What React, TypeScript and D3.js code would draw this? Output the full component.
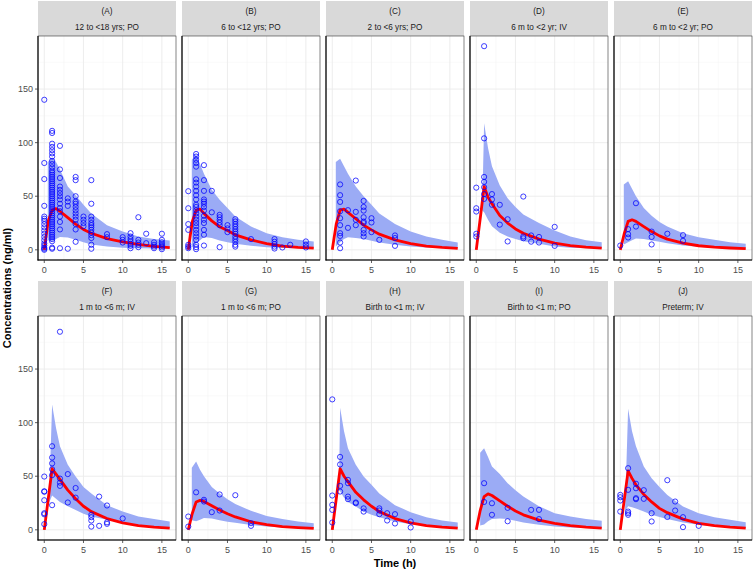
import React from "react";
import * as d3 from "d3";

const panelLetters = ["(A)", "(B)", "(C)", "(D)", "(E)", "(F)", "(G)", "(H)", "(I)", "(J)"];
const panelLabels = [
  "12 to <18 yrs; PO",
  "6 to <12 yrs; PO",
  "2 to <6 yrs; PO",
  "6 m to <2 yr; IV",
  "6 m to <2 yr; PO",
  "1 m to <6 m; IV",
  "1 m to <6 m; PO",
  "Birth to <1 m; IV",
  "Birth to <1 m; PO",
  "Preterm; IV",
];

const xTicks = [0, 5, 10, 15];
const xMinor = [2.5, 7.5, 12.5];
const yTicks = [0, 50, 100, 150];
const yMinor = [25, 75, 125, 175];

// median prediction line
const lineTimes = [0, 0.5, 1, 1.5, 2, 3, 4, 5, 6, 8, 10, 12, 14, 16];
const lineValues = [
  [0, 27, 37, 38.5, 36, 30, 24, 19, 15.5, 10.5, 7.5, 5, 3.2, 2],
  [0, 26, 37, 38, 34, 27, 21.5, 18, 14, 9.3, 5.8, 3.5, 2.2, 1.5],
  [0, 24, 37, 38, 35, 29, 23, 18.6, 14.6, 9.3, 5.8, 3.5, 2.2, 1.3],
  [0, 29, 59, 49, 43, 32, 25, 19.5, 15.5, 10, 6.3, 4, 2.6, 1.6],
  [0, 15, 26.5, 28, 26.5, 21.7, 17, 13, 10, 6.2, 3.8, 2.5, 1.7, 1.2],
  [0, 28.5, 57, 52, 47, 37, 29, 22, 17, 10.5, 6.5, 4, 2.5, 1.5],
  [0, 15, 26, 27.5, 26.5, 22.5, 18.5, 15, 12, 7.5, 4.8, 3, 2, 1.3],
  [0, 28.5, 57, 50, 45, 35, 28, 22, 17, 10.5, 6.5, 4, 2.5, 1.5],
  [0, 18, 31, 33.5, 32, 27, 22, 17.5, 14, 9, 6, 4, 2.5, 1.5],
  [0, 27.5, 55, 48, 42, 33, 26, 20, 16, 10, 6, 4, 2.5, 1.5],
];

// prediction interval (ribbon); first time point differs per panel
const ribbonStart = [0.45, 0.45, 0.45, 0.75, 0.45, 0.6, 0.45, 0.85, 0.5, 0.6];
const ribbonTimes = [1, 1.5, 2, 3, 4, 5, 6, 8, 10, 12, 14, 16];
const ribbonUpper = [
  [82, 86, 82, 75, 59, 51, 42, 34, 23, 17, 12.4, 10, 8.7],
  [84, 89, 80, 71, 56, 46.6, 39, 31, 21.7, 15.5, 11.8, 9.3, 7.8],
  [82, 85, 78, 71, 59, 50, 42, 34, 24, 17, 12.4, 9.3, 6.8],
  [37, 118, 95, 78, 60, 48, 40, 33, 25, 18, 12.5, 9, 7],
  [61, 64, 57, 50, 39, 31.7, 26, 21.7, 15.5, 11.8, 9.3, 7, 5.6],
  [25, 117, 95, 78, 60.6, 49.7, 40, 34, 23, 17, 12.4, 10, 7.8],
  [58, 63.7, 56, 50, 40, 34, 28.6, 24, 17.7, 13, 10, 7.8, 6.2],
  [37, 114, 92, 76, 60.6, 49.7, 42, 34, 23, 16.5, 11.8, 8.7, 6.8],
  [72, 76, 68, 59, 52, 43.5, 37, 31, 22, 15.5, 12.5, 10, 8.5],
  [17, 113, 92, 78, 59, 48, 40, 32.6, 21.7, 15.5, 11.8, 9.3, 7],
];
const ribbonLower = [
  [9, 8, 10, 12, 11.5, 9.3, 7, 5, 3, 2, 1.5, 1.3, 1.2],
  [2, 6, 9, 12, 11, 8.7, 7, 5.6, 3.7, 2.5, 1.8, 1.4, 1.2],
  [3, 7, 10, 11.8, 11, 10, 8.5, 6.8, 4.7, 3, 2.2, 1.7, 1.5],
  [37, 35, 28, 22, 16, 12.4, 10, 8, 5.6, 3, 2, 1.5, 1.2],
  [5, 7, 9, 10.5, 10, 8.7, 7.5, 6.2, 4, 2.8, 2, 1.5, 1.2],
  [25, 32, 29, 26, 22, 18.6, 15, 12.4, 9.3, 6.2, 4, 3, 2.2],
  [9, 8, 9.5, 11, 10.5, 9, 7.5, 6.5, 4.5, 3, 2.2, 1.7, 1.3],
  [37, 36, 30, 26, 21.7, 17, 14, 11.8, 7.8, 5.3, 3.8, 2.8, 2.2],
  [4, 5, 8, 10, 10.5, 10, 8.5, 6.8, 4.7, 3, 2.2, 1.6, 1.2],
  [17, 22, 21, 20, 17, 14, 12, 10, 6.8, 4.7, 3.2, 2.2, 1.5],
];

// observed concentrations: [time, values at that time]
type Group = [number, number[]];
const obsA: Group[] = [
  [0, [140, 81, 66, 41, 31, 29, 27, 24, 21, 18, 15, 12, 9, 6, 4, 2, 1, 0]],
  [1, [111, 109, 99, 96, 93, 90, 87, 83, 80, 77, 74, 72, 70, 68, 66, 64, 62, 60, 58, 56, 54, 52, 50, 48, 46, 44, 42, 40, 38, 36, 34, 32, 30, 28, 26, 24, 22, 20, 18, 16, 14, 12, 10, 8, 2, 1]],
  [2, [97, 75, 67, 59, 56, 53, 50, 47, 43, 39, 36, 31, 26, 19, 1.5]],
  [3, [48, 45, 41, 1]],
  [4, [68, 65, 50, 45, 43, 40, 37, 34, 31, 28, 24, 19, 7.5]],
  [5, [31, 28, 25, 22]],
  [6, [65, 43, 31, 28, 25, 23, 21, 18.6, 16, 13.7, 11, 4.7, 1]],
  [8, [14.6, 11.8]],
  [10, [11.8, 9.3, 6.8]],
  [11, [15.5, 12.4, 10, 7.8, 5.6, 3.7, 1.5]],
  [12, [30.4, 9.3, 6.8, 4.7, 2.5]],
  [13, [15, 6.2]],
  [14, [7, 4.7, 3, 1.5]],
  [15, [15, 9.3, 7, 5.3, 3.7, 2.2, 0.6]],
];
const obsB: Group[] = [
  [0, [54.7, 38.8, 24, 18.6, 4.7, 3, 1.5]],
  [1, [89.4, 87, 84, 81, 77.6, 65.8, 62.7, 59, 55, 51, 47, 42, 40, 37, 34, 31, 28, 25, 22, 18.6, 15.5, 12.4, 9.3, 4.7, 2.5, 0.6]],
  [2, [79, 65, 55, 47, 45, 43, 40, 36.6, 31.7, 28, 25, 18.6, 14, 4]],
  [3, [55, 35]],
  [4, [32.6, 30.4, 28, 25.5, 23, 2.5]],
  [5, [23, 20, 16.5]],
  [6, [28.6, 26.4, 24, 21.7, 19.3, 17, 15, 12.4, 10, 7.5, 4.7, 3]],
  [8, [10]],
  [11, [10, 7.5, 5.3, 3, 1.2]],
  [12, [2.2]],
  [13, [4.7]],
  [15, [7.8, 4.7, 2.2]],
];
const obsC: Group[] = [
  [1, [61, 51, 44.7, 36, 29.5, 23, 15.5, 13, 6.8, 1.5]],
  [2, [37, 20.5]],
  [3, [64.6, 35.4, 28, 23]],
  [4, [45.6, 40, 36.6, 30.4, 26.4, 25, 18.6, 15.5, 12.4]],
  [5, [29.5, 25.5, 16.5]],
  [6, [9.3]],
  [8, [13.4, 11, 3.7]],
];
const obsD: Group[] = [
  [0, [58, 38.8, 35.7, 15, 12.4]],
  [1, [190, 104, 68, 63.4, 58.4, 52, 47.5]],
  [2, [52, 47, 42]],
  [3, [42, 23.5]],
  [4, [28.5, 7.8]],
  [6, [49.7, 12.4, 10.8]],
  [7, [13.4, 7.6]],
  [8, [12, 6.8]],
  [10, [21.4, 3.7]],
];
const obsE: Group[] = [
  [0, [4]],
  [1, [19.3, 14.6, 11.5]],
  [2, [43.5, 21.7]],
  [4, [17, 12, 5]],
  [6, [15]],
  [8, [13.7, 8.4]],
];
const obsF: Group[] = [
  [0, [49.7, 36, 35.5, 27.6, 15.5, 14.5, 5.3]],
  [1, [78, 67.4, 62, 56.5, 51, 23]],
  [2, [184.8, 47.8, 44, 41]],
  [3, [52, 25.5]],
  [4, [39, 30]],
  [6, [14, 11.8, 8.7, 3]],
  [7, [31, 3.7]],
  [8, [22.7, 7, 5.6]],
  [10, [10.6]],
];
const obsG: Group[] = [
  [0, [12.4, 3]],
  [1, [35]],
  [2, [28, 26.4]],
  [3, [16.5]],
  [4, [33, 18]],
  [6, [32.3]],
  [8, [6.2, 3.7]],
];
const obsH: Group[] = [
  [0, [121.7, 32, 23.3, 18.6, 6.8]],
  [1, [68, 61, 41, 35.7]],
  [2, [46.6, 43.5, 31, 28.6]],
  [3, [25.5, 24.8]],
  [4, [20, 17]],
  [6, [20, 18, 14.6]],
  [7, [15.5, 8.7]],
  [8, [14.6, 5.9]],
  [10, [7.8, 2.2]],
];
const obsI: Group[] = [
  [1, [43.5, 26]],
  [2, [24.8, 14]],
  [4, [20.5, 8]],
  [7, [18.6]],
  [8, [18.6, 10]],
];
const obsJ: Group[] = [
  [0, [32.6, 30.4, 27.3, 17]],
  [1, [57.5, 37.3, 17, 15.5, 14]],
  [2, [43, 38.8, 29.5, 28.6]],
  [3, [37, 28.9]],
  [4, [15.5, 7.8]],
  [6, [46.3, 12]],
  [7, [26.4, 18]],
  [8, [11.8, 2.5]],
  [10, [3.7]],
];
const observations = [obsA, obsB, obsC, obsD, obsE, obsF, obsG, obsH, obsI, obsJ];

const W = 753;
const H = 572;
const panelLeft0 = 38;
const panelStep = 144;
const panelW = 138;
const rowTop0 = 1;
const rowStep = 280;
const stripH = 35;
const panelH = 224;

const FONT = "'Liberation Sans', Arial, Helvetica, sans-serif";

const x = d3.scaleLinear().domain([-0.8, 16.8]).range([0, panelW]);
const y = d3.scaleLinear().domain([-9.5, 199.5]).range([panelH, 0]);

type RPt = { t: number; lo: number; hi: number };

function Panel({ idx }: { idx: number }) {
  const col = idx % 5;
  const row = Math.floor(idx / 5);
  const left = panelLeft0 + col * panelStep;
  const stripTop = rowTop0 + row * rowStep;
  const top = stripTop + stripH;

  const rTimes = [ribbonStart[idx], ...ribbonTimes];
  const rData: RPt[] = rTimes.map((t, i) => ({ t, lo: ribbonLower[idx][i], hi: ribbonUpper[idx][i] }));
  const area = d3
    .area<RPt>()
    .x((d) => x(d.t))
    .y0((d) => y(d.lo))
    .y1((d) => y(d.hi));
  const lData: [number, number][] = lineTimes.map((t, i) => [t, lineValues[idx][i]]);
  const line = d3
    .line<[number, number]>()
    .x((d) => x(d[0]))
    .y((d) => y(d[1]));

  const pts: [number, number][] = [];
  observations[idx].forEach(([t, vals]) => vals.forEach((v) => pts.push([t, v])));
  const clipId = `clip-${idx}`;

  return (
    <g>
      <rect x={left} y={stripTop} width={panelW} height={stripH} fill="#d9d9d9" />
      <text x={left + panelW / 2} y={stripTop + 12.5} textAnchor="middle" fontSize={8.2} fill="#1a1a1a" fontFamily={FONT}>
        {panelLetters[idx]}
      </text>
      <text x={left + panelW / 2} y={stripTop + 29} textAnchor="middle" fontSize={8.2} fill="#1a1a1a" fontFamily={FONT}>
        {panelLabels[idx]}
      </text>
      <g transform={`translate(${left},${top})`}>
        <defs>
          <clipPath id={clipId}>
            <rect x={0} y={0} width={panelW} height={panelH} />
          </clipPath>
        </defs>
        <rect x={0} y={0} width={panelW} height={panelH} fill="#fff" />
        {xMinor.map((t) => (
          <line key={"xm" + t} x1={x(t)} x2={x(t)} y1={0} y2={panelH} stroke="#f2f2f2" strokeWidth={0.5} />
        ))}
        {yMinor.map((t) => (
          <line key={"ym" + t} x1={0} x2={panelW} y1={y(t)} y2={y(t)} stroke="#f2f2f2" strokeWidth={0.5} />
        ))}
        {xTicks.map((t) => (
          <line key={"xg" + t} x1={x(t)} x2={x(t)} y1={0} y2={panelH} stroke="#ebebeb" strokeWidth={0.9} />
        ))}
        {yTicks.map((t) => (
          <line key={"yg" + t} x1={0} x2={panelW} y1={y(t)} y2={y(t)} stroke="#ebebeb" strokeWidth={0.9} />
        ))}
        <g clipPath={`url(#${clipId})`}>
          <path d={area(rData) || ""} fill="#9babf5" />
          <path d={line(lData) || ""} fill="none" stroke="#ff0000" strokeWidth={2.8} strokeLinejoin="round" />
          {pts.map((p, i) => (
            <circle key={i} cx={x(p[0])} cy={y(p[1])} r={2.6} fill="none" stroke="#0000ff" strokeWidth={0.75} />
          ))}
        </g>
        <rect x={0} y={0} width={panelW} height={panelH} fill="none" stroke="#333333" strokeWidth={0.6} />
        <line x1={0} x2={0} y1={0} y2={panelH + 0.5} stroke="#000" strokeWidth={1.1} />
        <line x1={-0.5} x2={panelW} y1={panelH} y2={panelH} stroke="#000" strokeWidth={1.1} />
        {xTicks.map((t) => (
          <g key={"xt" + t}>
            <line x1={x(t)} x2={x(t)} y1={panelH} y2={panelH + 3} stroke="#333" strokeWidth={0.8} />
            <text x={x(t)} y={panelH + 12.5} textAnchor="middle" fontSize={9} fill="#4d4d4d" fontFamily={FONT}>
              {t}
            </text>
          </g>
        ))}
        {col === 0 &&
          yTicks.map((t) => (
            <g key={"yt" + t}>
              <line x1={-3} x2={0} y1={y(t)} y2={y(t)} stroke="#333" strokeWidth={0.8} />
              <text x={-5} y={y(t) + 3.2} textAnchor="end" fontSize={9} fill="#4d4d4d" fontFamily={FONT}>
                {t}
              </text>
            </g>
          ))}
      </g>
    </g>
  );
}

export default function App() {
  const idxs = d3.range(10);
  return (
    <svg
      width={W}
      height={H}
      viewBox={`0 0 ${W} ${H}`}
      style={{ position: "absolute", left: 0, top: 0, background: "#fff" }}
    >
      <rect x={0} y={0} width={W} height={H} fill="#fff" />
      {idxs.map((i) => (
        <Panel key={i} idx={i} />
      ))}
      <text
        transform={`translate(11,${(36 + 540) / 2}) rotate(-90)`}
        textAnchor="middle"
        fontSize={11}
        fontWeight="bold"
        fill="#000"
        fontFamily={FONT}
      >
        Concentrations (ng/ml)
      </text>
      <text x={395} y={567} textAnchor="middle" fontSize={11} fontWeight="bold" fill="#000" fontFamily={FONT}>
        Time (h)
      </text>
    </svg>
  );
}
